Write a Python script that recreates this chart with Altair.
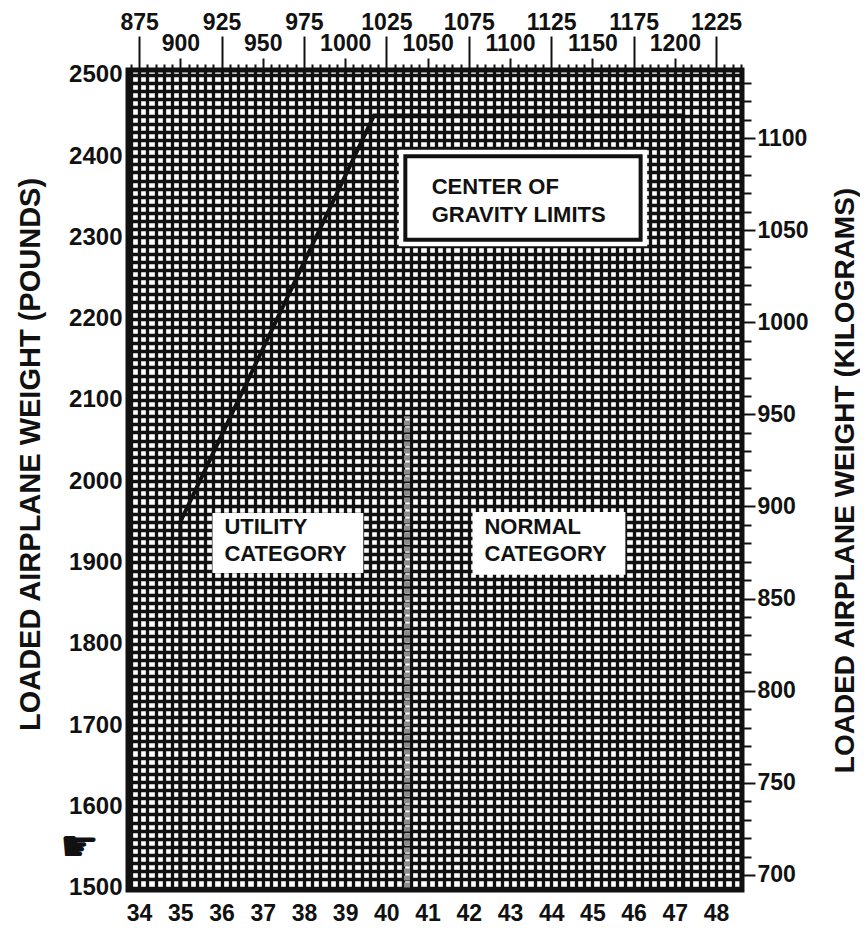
import altair as alt
import pandas as pd

# ---------------- data ----------------
# envelope (CG limits), inches aft of datum / pounds
env_cg = [35.0, 35.0, 39.7, 47.2, 47.2]
env_lb = [1500, 1950, 2450, 2450, 1500]

# utility / normal category boundary (grey dashed line)
util_cg = [40.5, 40.5]
util_lb = [1500, 2080]

# white label boxes (utility, normal, outer margin of CG box)
box_x1 = [35.78, 42.09, 40.30]
box_x2 = [39.44, 45.80, 46.33]
box_y1 = [1887, 1885, 2289]
box_y2 = [1961, 1962, 2408]

# framed CG box
cgbox_x1 = [40.46]
cgbox_x2 = [46.17]
cgbox_y1 = [2297]
cgbox_y2 = [2400]

label_text = ["UTILITY", "CATEGORY", "NORMAL", "CATEGORY", "CENTER OF", "GRAVITY LIMITS"]
label_x = [36.07, 36.07, 42.38, 42.38, 41.10, 41.10]
label_y = [1944, 1910, 1944, 1910, 2362, 2328]

# pointer mark at the left margin
hand_x = [32.55]
hand_y = [1549]

# axis ticks / labels
bottom_labels = list(range(34, 49))                 # inches
top_labels = [875 + 25 * i for i in range(15)]       # 875 ... 1225
lb_labels = list(range(1500, 2501, 100))
kg_labels = list(range(700, 1101, 50))

# where the kilogram scale sits against the pound scale on the printed chart
kg_anchor = [700, 1100]
kg_anchor_lb = [1515.5, 2422.3]

x_grid = [round(33.8 + 0.2 * i, 1) for i in range(75)]
lb_grid = list(range(1500, 2501, 10))
kg_grid = list(range(700, 1131, 10))

X_DOM = [33.73, 48.63]
LB_DOM = [1497, 2506]

FONT = "Liberation Sans"
INK = "#111111"
W = "bold"

xs = alt.Scale(domain=X_DOM, nice=False, zero=False)
ys = alt.Scale(domain=LB_DOM, nice=False, zero=False)

# kg tick positions expressed on the pound scale
kg_per_lb = (kg_anchor[1] - kg_anchor[0]) / (kg_anchor_lb[1] - kg_anchor_lb[0])
kg_pos = [kg_anchor_lb[0] + (k - kg_anchor[0]) / kg_per_lb for k in kg_grid]
KG_OF = f"round({kg_anchor[0]} + (datum.value - {kg_anchor_lb[0]}) * {kg_per_lb})"

IS_INT = "abs(datum.value - round(datum.value)) < 0.01"
top_arr = "[" + ",".join("'%d'" % v for v in top_labels) + "]"

bottom_axis = alt.Axis(
    orient="bottom", values=x_grid, grid=True, gridColor=INK, gridWidth=3.3, gridOpacity=1,
    ticks=False, domain=False, labelOverlap=False, labelFlush=False,
    labelExpr=f"{IS_INT} ? '' + round(datum.value) : ''",
    labelFont=FONT, labelFontSize=23, labelFontWeight=W, labelColor=INK, labelPadding=12,
    title=None,
)
top_axis = alt.Axis(
    orient="top", values=x_grid, grid=False, domain=False, labelOverlap=False, labelFlush=False,
    tickColor=INK, tickWidth=2,
    tickSize={"expr": f"{IS_INT} ? (round(datum.value) % 2 == 0 ? 34 : 12) : 6"},
    labelPadding={"expr": f"{IS_INT} && round(datum.value) % 2 == 0 ? 2 : 3"},
    labelExpr=f"{IS_INT} ? {top_arr}[round(datum.value) - {bottom_labels[0]}] : ''",
    labelFont=FONT, labelFontSize=23, labelFontWeight=W, labelColor=INK, title=None,
)
left_axis = alt.Axis(
    orient="left", values=lb_grid, grid=True, gridColor=INK, gridWidth=3.3, gridOpacity=1,
    ticks=False, domain=False, labelOverlap=False, labelFlush=False,
    labelExpr="datum.value % 100 == 0 ? '' + datum.value : ''",
    labelFont=FONT, labelFontSize=24, labelFontWeight=W, labelColor=INK, labelPadding=6,
    title="LOADED AIRPLANE WEIGHT (POUNDS)", titleFont=FONT, titleFontSize=29,
    titleFontWeight=W, titleColor=INK, titleAngle=270, titleAlign="center",
    titleBaseline="middle", titleX=-98, titleY=384,
)
right_axis = alt.Axis(
    orient="right", values=kg_pos, grid=False, domain=False, labelOverlap=False, labelFlush=False,
    tickColor=INK, tickWidth=2,
    tickSize={"expr": f"{KG_OF} % 50 == 0 ? 13 : 9"},
    labelExpr=f"{KG_OF} % 50 == 0 ? '' + {KG_OF} : ''",
    labelFont=FONT, labelFontSize=23, labelFontWeight=W, labelColor=INK, labelPadding=2,
    title="LOADED AIRPLANE WEIGHT (KILOGRAMS)", titleFont=FONT, titleFontSize=28,
    titleFontWeight=W, titleColor=INK, titleAngle=270, titleAlign="center",
    titleBaseline="middle", titleX=103, titleY=410,
)

env_df = pd.DataFrame({"cg": env_cg, "lb": env_lb, "i": list(range(len(env_cg)))})
util_df = pd.DataFrame({"cg": util_cg, "lb": util_lb})
box_df = pd.DataFrame({"x1": box_x1, "x2": box_x2, "y1": box_y1, "y2": box_y2})
cg_df = pd.DataFrame({"x1": cgbox_x1, "x2": cgbox_x2, "y1": cgbox_y1, "y2": cgbox_y2})
lab_df = pd.DataFrame({"t": label_text, "x": label_x, "y": label_y})
hand_df = pd.DataFrame({"x": hand_x, "y": hand_y, "t": ["\u261b"]})

boxes = alt.Chart(box_df).mark_rect(color="white").encode(
    x=alt.X("x1:Q", scale=xs, axis=None), x2="x2:Q",
    y=alt.Y("y1:Q", scale=ys, axis=None), y2="y2:Q",
)
cgbox = alt.Chart(cg_df).mark_rect(fill="white", stroke=INK, strokeWidth=4).encode(
    x=alt.X("x1:Q", scale=xs, axis=None), x2="x2:Q",
    y=alt.Y("y1:Q", scale=ys, axis=None), y2="y2:Q",
)
env = alt.Chart(env_df).mark_line(color=INK, strokeWidth=4).encode(
    x=alt.X("cg:Q", scale=xs, axis=bottom_axis),
    y=alt.Y("lb:Q", scale=ys, axis=left_axis),
    order="i:Q",
)
util = alt.Chart(util_df).mark_line(color="#8c8c8c", strokeWidth=6, strokeDash=[5, 2]).encode(
    x=alt.X("cg:Q", scale=xs, axis=None),
    y=alt.Y("lb:Q", scale=ys, axis=None),
)
labels = alt.Chart(lab_df).mark_text(
    align="left", baseline="middle", font=FONT, fontSize=22, fontWeight=W, color=INK
).encode(
    x=alt.X("x:Q", scale=xs, axis=None),
    y=alt.Y("y:Q", scale=ys, axis=None),
    text="t:N",
)
hand = alt.Chart(hand_df).mark_text(
    align="center", baseline="middle", font="DejaVu Sans", fontSize=44, color=INK
).encode(
    x=alt.X("x:Q", scale=xs, axis=None),
    y=alt.Y("y:Q", scale=ys, axis=None),
    text="t:N",
)
axes2 = alt.Chart(env_df).mark_point(opacity=0).encode(
    x=alt.X("cg:Q", scale=xs, axis=top_axis),
    y=alt.Y("lb:Q", scale=ys, axis=right_axis),
)

chart = (
    alt.layer(boxes, cgbox, env, util, labels, hand, axes2)
    .properties(
        width=614, height=820,
        autosize=alt.AutoSizeParams(type="none"),
        padding={"left": 120, "top": 62, "right": 118, "bottom": 57},
        background="white",
    )
    .configure_view(stroke=INK, strokeWidth=5)
)

chart.save("out.html", embed_options={"renderer": "svg", "actions": False})
